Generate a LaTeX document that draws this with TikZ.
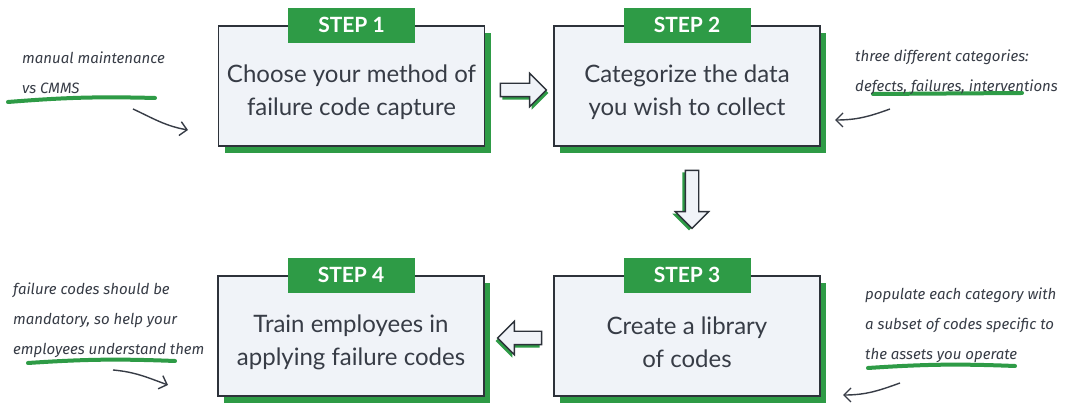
\documentclass[tikz,border=0pt]{standalone}
\usepackage{fontspec}
\setmainfont{Lato}
\newfontfamily\handfont{Fira Sans}
\usetikzlibrary{shapes.arrows,shadows,arrows.meta,positioning}

\definecolor{stepgreen}{RGB}{46,155,70}
\definecolor{boxfill}{RGB}{240,243,248}
\definecolor{boxline}{RGB}{45,50,58}
\definecolor{inkgray}{RGB}{55,60,70}

\tikzset{
  stepbox/.style={draw=boxline, line width=1.8pt, fill=boxfill,
    minimum width=266pt, minimum height=120pt,
    drop shadow={shadow xshift=6pt, shadow yshift=-7pt, fill=stepgreen, opacity=1}},
  steptext/.style={align=center, text=inkgray, font=\fontsize{24}{33}\selectfont},
  steptag/.style={fill=stepgreen, text=white, minimum width=127pt, minimum height=35pt,
    font=\bfseries\fontsize{21}{21}\selectfont},
  note/.style={font=\handfont\itshape\fontsize{15}{30}\selectfont, text=inkgray,
    align=left, anchor=north west, inner sep=0pt},
  hl/.style={stepgreen, line width=4pt, line cap=round},
  flowarrow/.style={single arrow, draw=boxline, line width=1.4pt, fill=boxfill,
    inner sep=6pt, single arrow head extend=10pt, minimum height=46pt},
  remark/.style={draw=inkgray, line width=1.4pt, -{Straight Barb[length=7pt, width=14pt]}}
}

\begin{document}
\begin{tikzpicture}[x=1pt, y=1pt]
\useasboundingbox[fill=white] (0,0) rectangle (1065,403);

% green brush strokes under the notes
\draw[hl] (8,301) to[bend left=3] (155,305);
\draw[hl] (873,309) -- (1022,310);
\draw[hl] (28,40) to[bend left=3] (175,42);
\draw[hl] (868,35) to[bend left=3] (1015,37);

% steps
\node[stepbox] (b1) at (351.5,317) {};
\node[stepbox] (b2) at (687,317) {};
\node[stepbox] (b3) at (687,67) {};
\node[stepbox] (b4) at (351,67) {};

\node[steptext] (s1) at ([yshift=-6pt]b1.center) {Choose your method of\\failure code capture};
\node[steptext] (s2) at ([yshift=-6pt]b2.center) {Categorize the data\\you wish to collect};
\node[steptext] (s3) at ([yshift=-6pt]b3.center) {Create a library\\of codes};
\node[steptext] (s4) at ([yshift=-6pt]b4.center) {Train employees in\\applying failure codes};

\node[steptag] (t1) at (b1.north) {STEP 1};
\node[steptag] (t2) at (b2.north) {STEP 2};
\node[steptag] (t3) at (b3.north) {STEP 3};
\node[steptag] (t4) at (b4.north) {STEP 4};

% block arrows between steps
\node[flowarrow, drop shadow={shadow xshift=2pt, shadow yshift=-3pt, fill=stepgreen, opacity=1}]
  (a12) at (520,313) {};
\node[flowarrow, shape border rotate=270, minimum height=58pt,
  drop shadow={shadow xshift=-3pt, shadow yshift=-2pt, fill=stepgreen, opacity=1}]
  (a23) at (692,207) {};
\node[flowarrow, shape border rotate=180, minimum height=44pt,
  drop shadow={shadow xshift=-2pt, shadow yshift=-3pt, fill=stepgreen, opacity=1}]
  (a34) at (523,65) {};

% hand notes
\node[note] (n1) at (22,351) {manual maintenance\\vs CMMS};
\node[note] (n2) at (855,353) {three different categories:\\defects, failures, interventions};
\node[note] (n3) at (13,120) {failure codes should be\\mandatory, so help your\\employees understand them};
\node[note] (n4) at (865,115) {populate each category with\\a subset of codes specific to\\the assets you operate};

\coordinate (p1) at (133,294);
\coordinate (q1) at (188,273);
\coordinate (p2) at (890,294);
\coordinate (q2) at (835,283);
\coordinate (p3) at (113,33);
\coordinate (q3) at (168,18);
\coordinate (p4) at (900,20);
\coordinate (q4) at (843,8);

\draw[remark] (p1) to[out=-25, in=170] (q1);
\draw[remark] (p2) to[out=200, in=0] (q2);
\draw[remark] (p3) to[out=-5, in=160] (q3);
\draw[remark] (p4) to[out=200, in=0] (q4);
\end{tikzpicture}
\end{document}
